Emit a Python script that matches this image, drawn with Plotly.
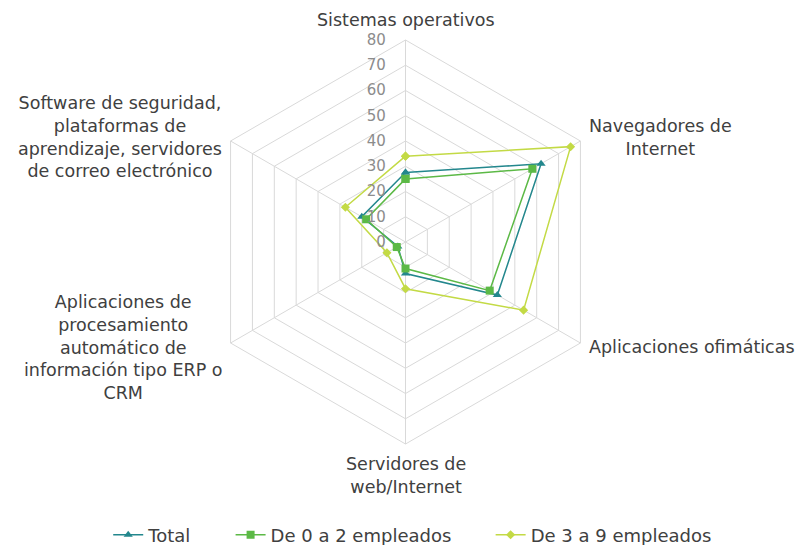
import math
import plotly.graph_objects as go

categories = [
    "Sistemas operativos",
    "Navegadores de<br>Internet",
    "Aplicaciones ofimáticas",
    "Servidores de<br>web/Internet",
    "Aplicaciones de<br>procesamiento<br>automático de<br>información tipo ERP o<br>CRM",
    "Software de seguridad,<br>plataformas de<br>aprendizaje, servidores<br>de correo electrónico",
]

total = [27.5, 62, 42, 12.5, 3.5, 20]
de_0_a_2 = [25, 58, 38.5, 10.5, 4, 18]
de_3_a_9 = [34, 75.5, 54, 18.5, 8.5, 27.5]

series_names = ["Total", "De 0 a 2 empleados", "De 3 a 9 empleados"]
series_values = [total, de_0_a_2, de_3_a_9]
colors = ["#23878D", "#5CB946", "#C3DA45"]
symbols = ["triangle-up", "square", "diamond"]
sizes = [8, 8, 7]

radial_ticks = [0, 10, 20, 30, 40, 50, 60, 70, 80]
radial_ticktext = [f"{v:>2}".replace(" ", "\u2007") for v in radial_ticks]

W, H = 803, 545
# polar layout geometry (figure pixels, page renders with 8px body offset)
CX, CY, R = 397.5, 234.0, 202.0
cx_p, cy_p = CX / W, 1 - CY / H
dom_x = [cx_p - R / W, cx_p + R / W]
dom_y = [cy_p - R / H, cy_p + R / H]

fig = go.Figure()
for k, (name, vals, col, sym, sz) in enumerate(zip(series_names, series_values, colors, symbols, sizes)):
    pad = "\u00a0" * 6 if k < len(series_names) - 1 else ""
    fig.add_trace(go.Scatterpolar(
        r=vals + [vals[0]],
        theta=categories + [categories[0]],
        mode="lines+markers",
        name=name + pad,
        line=dict(color=col, width=1.5),
        marker=dict(symbol=sym, size=sz, color=col),
    ))

# category labels, centred multi-line text placed just outside each spoke
annotations = []
n = len(categories)
for i, cat in enumerate(categories):
    ang = math.radians(90 - 360.0 * i / n)
    c, s = math.cos(ang), math.sin(ang)
    px = (R + 8) * c
    py = (R + 8) * s
    if abs(c) < 1e-6:
        xa, ya = "center", ("bottom" if s > 0 else "top")
    else:
        xa, ya = ("left" if c > 0 else "right"), "middle"
    annotations.append(dict(
        x=cx_p + px / W, y=cy_p + py / H, xref="paper", yref="paper",
        text=cat, showarrow=False, xanchor=xa, yanchor=ya, align="center",
        font=dict(size=17.5, color="#404040"),
    ))

fig.update_layout(
    width=W, height=H,
    margin=dict(l=0, r=0, t=0, b=0, autoexpand=False),
    paper_bgcolor="white",
    plot_bgcolor="white",
    font=dict(family="DejaVu Sans, Verdana, sans-serif", size=15, color="#404040"),
    annotations=annotations,
    polar=dict(
        domain=dict(x=dom_x, y=dom_y),
        gridshape="linear",
        bgcolor="white",
        radialaxis=dict(
            range=[0, 80],
            tickvals=radial_ticks,
            ticktext=radial_ticktext,
            angle=90,
            tickangle=90,
            side="counterclockwise",
            showline=False,
            gridcolor="#D9D9D9",
            gridwidth=1,
            ticks="outside",
            ticklen=14,
            tickcolor="rgba(0,0,0,0)",
            tickfont=dict(size=15, color="#8C8C8C"),
        ),
        angularaxis=dict(
            direction="clockwise",
            rotation=90,
            gridcolor="#D9D9D9",
            linecolor="#D9D9D9",
            showline=True,
            ticks="",
            showticklabels=False,
        ),
    ),
    legend=dict(
        orientation="h",
        x=0.504, xanchor="center",
        y=0.033, yanchor="middle",
        font=dict(size=18, color="#404040"),
        itemwidth=30,
        tracegroupgap=0,
    ),
)

fig.write_html("out.html")
